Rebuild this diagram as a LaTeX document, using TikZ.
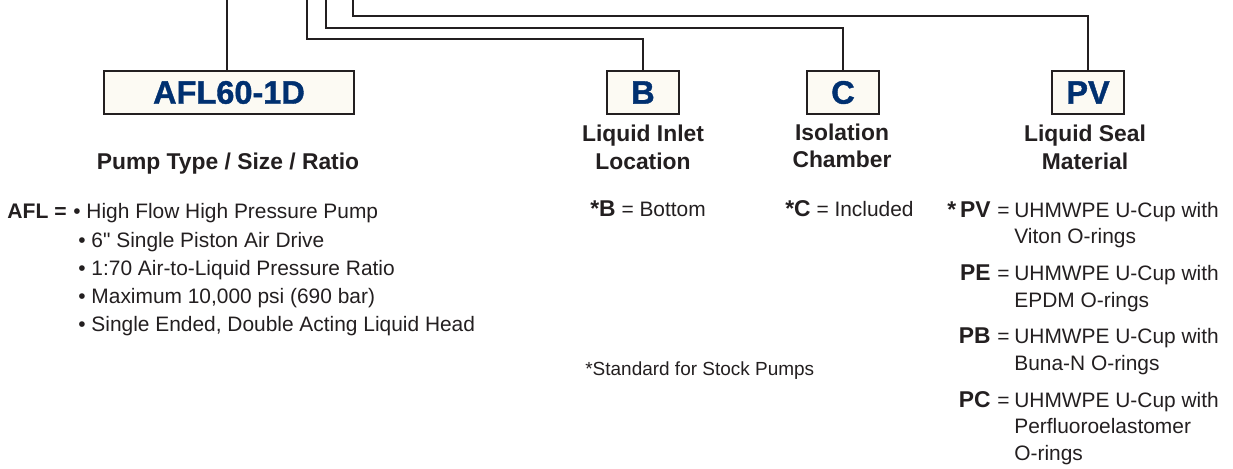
\documentclass[tikz,border=0pt]{standalone}
\usepackage{fontspec}
\setmainfont{Liberation Sans}
\newfontfamily\rawsans{Liberation Sans}
\newfontfamily\heavysans{Liberation Sans}[BoldFont={Liberation Sans Bold}, BoldFeatures={FakeBold=1.2}]
\usetikzlibrary{positioning}
\definecolor{ink}{RGB}{35,31,32}
\definecolor{navy}{RGB}{0,48,112}
\definecolor{cream}{RGB}{252,250,243}
\newcommand{\keyc}[1]{{\fontsize{13}{15}\selectfont\bfseries #1}}

\begin{document}
\begin{tikzpicture}[x=0.02cm, y=-0.02cm,
  codebox/.style={draw=ink, fill=cream, line width=1.2pt, minimum height=0.86cm,
    inner sep=0pt, text=navy, font=\heavysans\fontsize{18.5}{20}\selectfont\bfseries},
  head/.style={text=ink, anchor=base, inner sep=0pt, font=\fontsize{13}{15}\selectfont\bfseries},
  txt/.style={text=ink, anchor=base west, inner sep=0pt, font=\fontsize{11.9}{14}\selectfont},
  key/.style={text=ink, anchor=base east, inner sep=0pt, font=\fontsize{13}{15}\selectfont\bfseries},
  link/.style={draw=ink, line width=1.2pt}]

\useasboundingbox (0,0) rectangle (1233,468);

% Code boxes
\node[codebox, minimum width=5cm]    (afl)     at (229,92.5)  {AFL60-1D};
\node[codebox, minimum width=1.44cm] (inlet)   at (643,92.5)  {B};
\node[codebox, minimum width=1.44cm] (chamber) at (843,92.5)  {C};
\node[codebox, minimum width=1.44cm] (seal)    at (1088,92.5) {PV};

% Leads from the part number
\coordinate (s1) at (227,0);
\coordinate (s2) at (307,0);
\coordinate (s3) at (326,0);
\coordinate (s4) at (353,0);

\draw[link] (s1) -- (s1 |- afl.north);
\draw[link] (s2) -- ++(0,39) -| (inlet.north);
\draw[link] (s3) -- ++(0,28) -| (chamber.north);
\draw[link] (s4) -- ++(0,16) -| (seal.north);

% Headings
\node[head] (pumphd)  at (228,169)  {Pump Type / Size / Ratio};
\node[head] (inlethd) at (643,141)  {Liquid Inlet};
\node[head] (inlethe) at (643,169)  {Location};
\node[head] (isohd)   at (842,140)  {Isolation};
\node[head] (isohe)   at (842,167)  {Chamber};
\node[head] (sealhd)  at (1085,141) {Liquid Seal};
\node[head] (sealhe)  at (1085,169) {Material};

% Pump type
\node[key, font=\fontsize{12}{14}\selectfont\bfseries] (aflkey) at (67,218) {AFL =};
\node[txt] (bul1)   at (73,218) {• High Flow High Pressure Pump};
\foreach \y/\t [count=\i from 2] in {247/6{\rawsans"} Single Piston Air Drive,
    275/1:70 Air-to-Liquid Pressure Ratio,
    303/{Maximum 10,000 psi (690 bar)},
    331/{Single Ended, Double Acting Liquid Head}}
  \node[txt] (bul\i) at (78,\y) {• \t};

% Inlet and chamber
\node[txt] (bottom)   at (590,216) {\keyc{*B} = Bottom};
\node[txt] (included) at (785,216) {\keyc{*C} = Included};

% Seal material
\node[key] (pv)  at (991,217) {*\,PV};
\node[txt] (pve) at (997,217) {=};
\node[txt] (pv1) at (1014,217) {UHMWPE U-Cup with};
\node[txt] (pv2) at (1014,243) {Viton O-rings};

\node[key] (pe)  at (991,280) {PE};
\node[txt] (pee) at (997,280) {=};
\node[txt] (pe1) at (1014,280) {UHMWPE U-Cup with};
\node[txt] (pe2) at (1014,307) {EPDM O-rings};

\node[key] (pb)  at (991,343) {PB};
\node[txt] (pbe) at (997,343) {=};
\node[txt] (pb1) at (1014,343) {UHMWPE U-Cup with};
\node[txt] (pb2) at (1014,370) {Buna-N O-rings};

\node[key] (pc)  at (991,407) {PC};
\node[txt] (pce) at (997,407) {=};
\node[txt] (pc1) at (1014,407) {UHMWPE U-Cup with};
\node[txt] (pc2) at (1014,433) {Perfluoroelastomer};
\node[txt] (pc3) at (1014,460) {O-rings};

% Footnote
\node[txt, font=\fontsize{10.8}{13}\selectfont] (std) at (585,375) {*Standard for Stock Pumps};

\end{tikzpicture}
\end{document}
